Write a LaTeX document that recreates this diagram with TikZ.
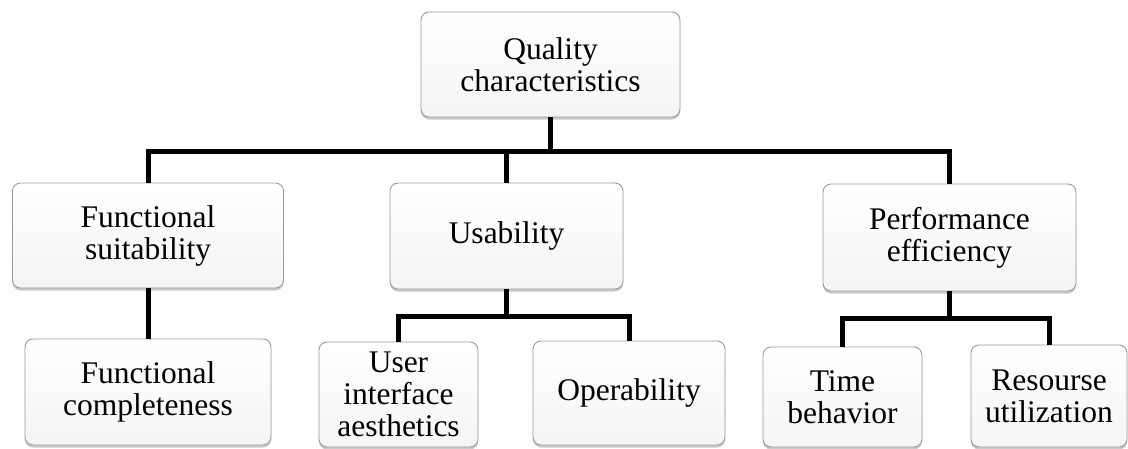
\documentclass[tikz,border=0pt]{standalone}
\usepackage{fontspec}
\setmainfont{Liberation Serif}
\usetikzlibrary{shadows}
\begin{document}
\begin{tikzpicture}[x=1pt,y=-1pt,
  box/.style={draw=black!40, line width=0.9pt, rounded corners=8pt,
    top color=white, bottom color=black!4,
    drop shadow={opacity=0.35, shadow xshift=0pt, shadow yshift=-2.5pt, fill=black!60},
    align=center, inner sep=0pt, font=\fontsize{31.5}{32}\selectfont},
  conn/.style={line width=5pt, line join=miter, draw=black}]
\useasboundingbox (0,0) rectangle (1128,448);
\fill[white] (0,0) rectangle (1128,448);
% nodes
\node[box, minimum width=259pt, minimum height=105pt] (Q)   at (550.5,64.5) {Quality\\characteristics};
\node[box, minimum width=271pt, minimum height=105pt] (FS)  at (148,235.5) {Functional\\suitability};
\node[box, minimum width=233pt, minimum height=106pt] (Us)  at (506.5,236) {Usability};
\node[box, minimum width=253pt, minimum height=107pt] (PE)  at (949.5,237.5) {Performance\\efficiency};
\node[box, minimum width=246pt, minimum height=106pt] (FC)  at (148,392) {Functional\\completeness};
\node[box, minimum width=159pt, minimum height=105pt] (UIA) at (398.5,394.5) {User\\interface\\aesthetics};
\node[box, minimum width=192pt, minimum height=104pt] (Op)  at (629,393) {Operability};
\node[box, minimum width=159pt, minimum height=100pt] (TB)  at (842.5,397) {Time\\behavior};
\node[box, minimum width=156pt, minimum height=102pt] (RU)  at (1049,396) {Resourse\\utilization};
% bus coordinates
\coordinate (bus) at (0,151);
\coordinate (busU) at (0,316);
\coordinate (busP) at (0,318);
% connectors
\draw[conn] (Q.south) -- (Q.south |- bus);
\draw[conn] (FS.north) -- (FS.north |- bus) -- (PE.north |- bus) -- (PE.north);
\draw[conn] (Us.north) -- (Us.north |- bus);
\draw[conn] (FS.south) -- (FC.north);
\draw[conn] (Us.south) -- (Us.south |- busU);
\draw[conn] (UIA.north) -- (UIA.north |- busU) -- (Op.north |- busU) -- (Op.north);
\draw[conn] (PE.south) -- (PE.south |- busP);
\draw[conn] (TB.north) -- (TB.north |- busP) -- (RU.north |- busP) -- (RU.north);
\end{tikzpicture}
\end{document}
